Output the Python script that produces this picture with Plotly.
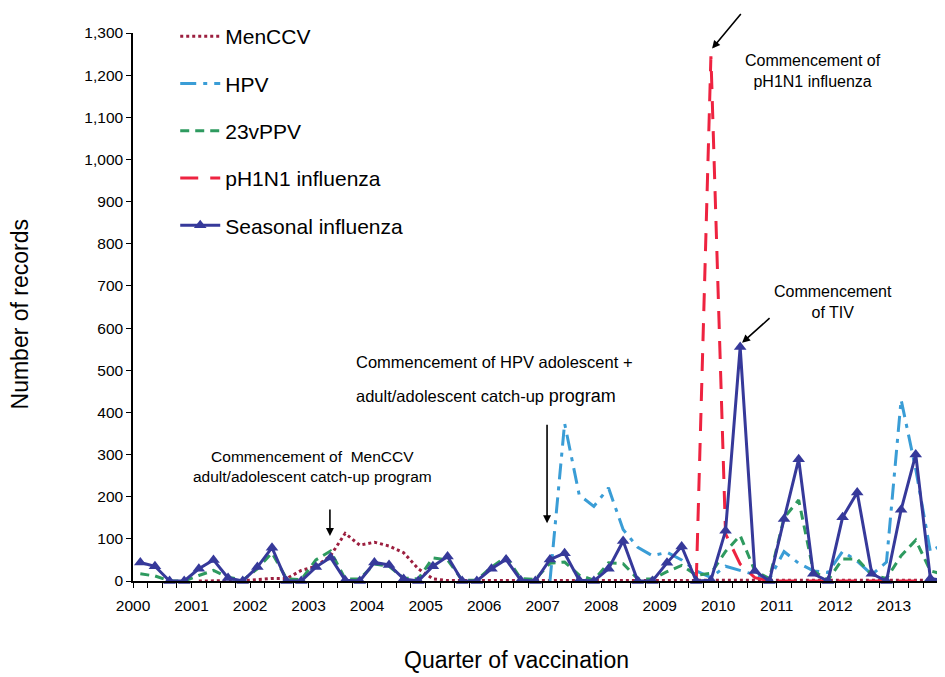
"""Vaccination records by quarter, 2000-2013."""

import plotly.graph_objects as go

years = list(range(2000, 2014))
quarters = [f"{y} Q{q}" for y in years for q in range(1, 5)]

menccv = [None, None, None, None, 0, 0, 0, 1, 3, 6, 6, 25, 35, 60, 113, 85,
          92, 83, 67, 29, 5, 1, 1, 1, 1, 1, 1, 1, 2, 2, 2, 1,
          1, 2, 2, 1, 1, 2, 2, 2, 2, 1, 1, 1, 2, 2, 2, 1,
          2, 2, 2, 1, 2, 2, 2, 2]
hpv = [None] * 28 + [0, 374, 204, 177, 221, 122, 80, 60, 68, 50, 24, 8,
                     35, 25, 15, 5, 70, 42, 24, 20, 70, 47, 15, 45, 430, 265, 70, 90]
ppv23 = [17, 12, 0, 0, 13, 25, 9, 2, 29, 67, 5, 3, 50, 71, 5, 5,
         40, 35, 7, 5, 55, 50, 2, 2, 33, 57, 6, 4, 42, 45, 14, 2,
         43, 41, 5, 5, 22, 37, 14, 18, 70, 108, 24, 6, 150, 192, 24, 2,
         52, 52, 15, 6, 60, 97, 24, 15]
ph1n1 = [None] * 38 + [0, 1245, 112, 40, 8, 0, 0, 0, 0, 0, 0, 0, 0, 0, 0, 0, 0, 0]
seasonal = [44, 35, 0, 0, 29, 50, 7, 0, 33, 79, 0, 0, 33, 56, 2, 0,
            44, 38, 5, 0, 35, 58, 0, 0, 29, 51, 2, 0, 51, 66, 2, 0,
            29, 95, 0, 0, 43, 82, 0, 2, 119, 555, 24, 0, 147, 289, 17, 0,
            151, 210, 17, 0, 169, 300, 6, 0]

xq = [i + 0.5 for i in range(len(quarters))]
FONT = "Arial, Liberation Sans, sans-serif"

fig = go.Figure()
series = [
    ("MenCCV", menccv, dict(color="#9c1f3f", width=3, dash="3px,3px")),
    ("HPV", hpv, dict(color="#3a9dd6", width=3, dash="16px,7px,4px,7px")),
    ("23vPPV", ppv23, dict(color="#2e9a5f", width=3, dash="9px,6px")),
    ("pH1N1 influenza", ph1n1, dict(color="#ee2340", width=3, dash="18px,12px")),
]
for name, vals, line in series:
    fig.add_trace(go.Scatter(
        x=xq, y=vals, mode="lines", name=name, line=line,
        legendgroup=name, text=quarters,
        hovertemplate="%{text}: %{y}<extra>" + name + "</extra>",
    ))
fig.add_trace(go.Scatter(
    x=xq, y=seasonal, mode="lines+markers", name="Seasonal influenza",
    line=dict(color="#36399a", width=3),
    marker=dict(symbol="triangle-up", size=11, color="#36399a"),
    legendgroup="seasonal", text=quarters, cliponaxis=False,
    hovertemplate="%{text}: %{y}<extra>Seasonal influenza</extra>",
))

fig.update_xaxes(
    range=[0, 55.5], tickvals=[4 * k for k in range(len(years))],
    ticktext=[str(y) for y in years], ticks="outside", ticklen=5,
    tickcolor="black", showline=True, linecolor="black", linewidth=1.5,
    showgrid=False, zeroline=False, ticklabelstandoff=5,
    minor=dict(dtick=1, tick0=0, ticks="outside", ticklen=5, tickcolor="black"),
    tickfont=dict(size=15.5, color="black", family=FONT),
)
fig.update_yaxes(
    range=[0, 1300], dtick=100, tickformat=",d", ticks="outside", ticklen=5,
    tickcolor="black", showline=True, linecolor="black", linewidth=1.5,
    showgrid=False, zeroline=False,
    tickfont=dict(size=15.5, color="black", family=FONT),
)

# axis titles
fig.add_annotation(x=0.4717, y=-0.145, xref="paper", yref="paper",
                   xanchor="center", yanchor="middle",
                   text="Quarter of vaccination", showarrow=False,
                   font=dict(size=23, color="black", family=FONT))
fig.add_annotation(x=-0.139, y=0.4866, xref="paper", yref="paper",
                   xanchor="center", yanchor="middle",
                   text="Number of records", showarrow=False, textangle=-90,
                   font=dict(size=23, color="black", family=FONT))

notes = [
    (12.25, 272, "Commencement of  MenCCV<br>adult/adolescent catch-up program", "center", 15.5),
    (15.1, 519, "Commencement of HPV adolescent +", "left", 16.5),
    (15.1, 440, 'adult/adolescent catch-up <span style="font-size:18px">program</span>', "left", 16.5),
    (46.5, 1209, "Commencement of<br>pH1N1 influenza", "center", 16),
    (47.85, 663, "Commencement<br>of TIV", "center", 16),
]
for x, y, txt, anchor, size in notes:
    fig.add_annotation(x=x, y=y, text=txt, showarrow=False, xanchor=anchor,
                       font=dict(size=size, color="black", family=FONT))

arrows = [(13.46, 107, 0, -28), (28.3, 137, 0, -100),
          (39.58, 1263, 30, -36), (41.63, 565, 29, -26)]
for x, y, ax, ay in arrows:
    fig.add_annotation(x=x, y=y, ax=ax, ay=ay, text="", showarrow=True,
                       arrowhead=2, arrowsize=1, arrowwidth=1.6, arrowcolor="black")

fig.update_layout(
    width=945, height=677, template="plotly_white",
    margin=dict(l=125, r=8, t=14, b=104),
    plot_bgcolor="white", paper_bgcolor="white",
    font=dict(family=FONT, color="black"),
    showlegend=True,
    legend=dict(x=0.052, y=1.031, xanchor="left", yanchor="top",
                font=dict(size=21, color="black", family=FONT),
                itemwidth=40, tracegroupgap=17, bgcolor="rgba(0,0,0,0)"),
)

fig.write_html("out.html")
